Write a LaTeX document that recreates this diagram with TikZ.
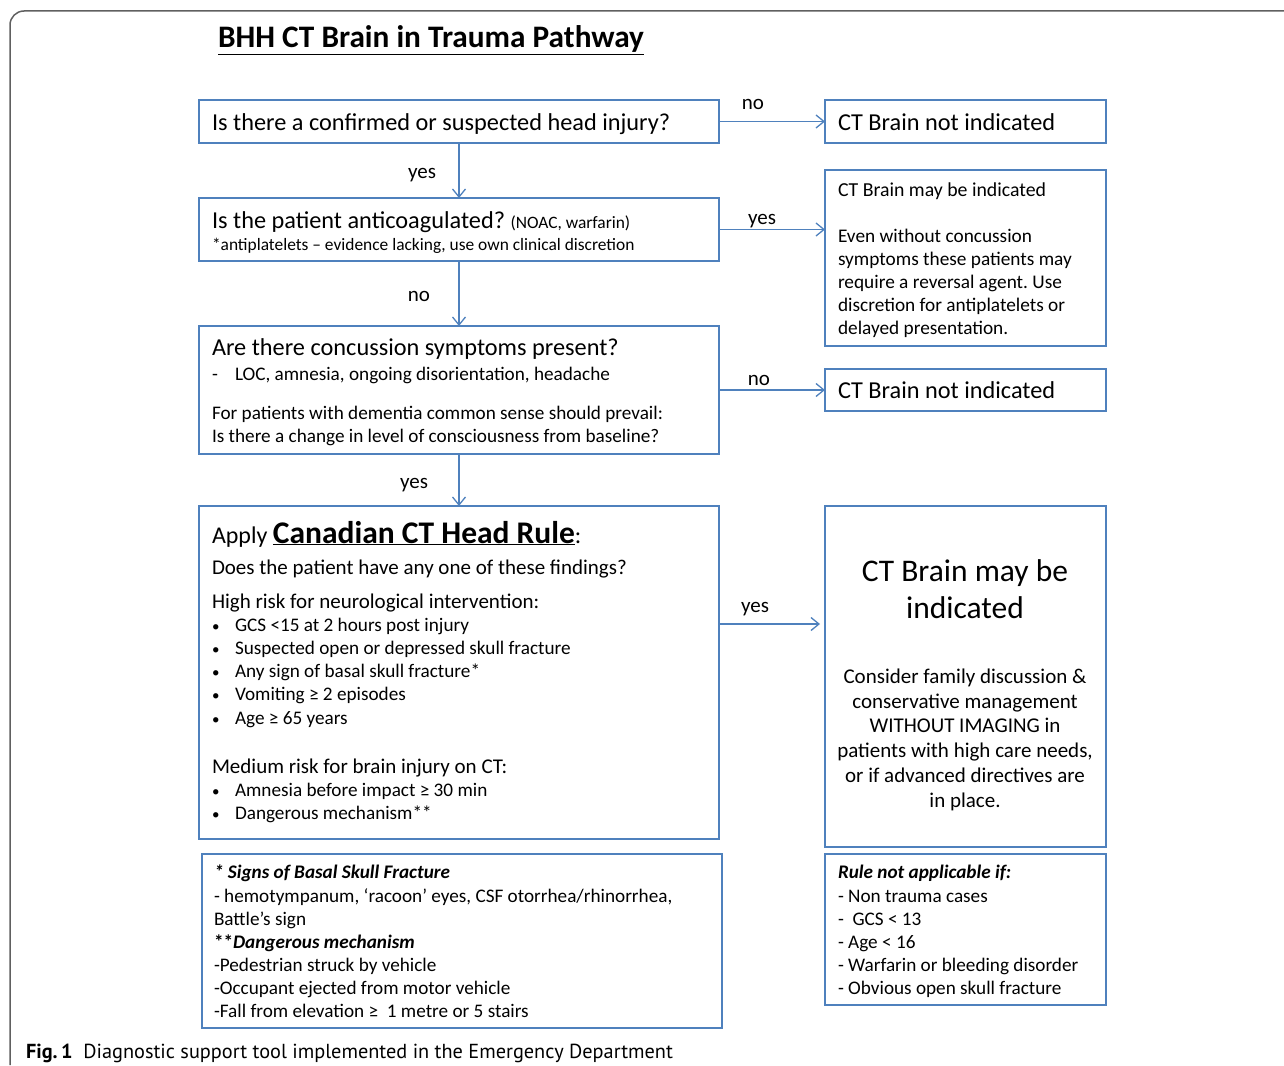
\documentclass[tikz,border=0pt]{standalone}
\usepackage{fontspec}
\setmainfont{Carlito}
\newfontfamily\capfont{PT Sans}
\usetikzlibrary{arrows.meta,calc}
\frenchspacing
\definecolor{boxblue}{HTML}{4F81BD}
\definecolor{framegray}{HTML}{606060}
\newcommand{\fsz}[1]{\fontsize{#1}{#1}\selectfont}
\tikzset{
  box/.style={draw=boxblue, line width=1.3pt, rectangle, inner sep=0pt, outer sep=0pt, anchor=north west},
  conn/.style={draw=boxblue, line width=1.3pt, -{Straight Barb[length=8pt,width=13pt,line width=1.3pt]}},
  txt/.style={anchor=base west, inner sep=0pt, outer sep=0pt, yshift=-1pt},
  ctxt/.style={anchor=base, inner sep=0pt, outer sep=0pt, yshift=-1pt},
  lbl/.style={anchor=base, inner sep=0pt, font=\fsz{21}, yshift=-1pt},
}
\begin{document}
\begin{tikzpicture}[x=1pt,y=-1pt]
\useasboundingbox (0,0) rectangle (1284,1065);
% outer frame
\draw[framegray, line width=1.5pt, rounded corners=14pt] (10,1065) -- (10,11) -- (1290,11);
% title
\node[ctxt, font=\fsz{31.3}\bfseries] (title) at (431,47) {\underline{BHH CT Brain in Trauma Pathway}};

% boxes
\node[box, minimum width=520pt, minimum height=43pt] (b1) at (199,100) {};
\node[box, minimum width=281pt, minimum height=43pt] (r1) at (825,100) {};
\node[box, minimum width=520pt, minimum height=63pt] (b2) at (199,198) {};
\node[box, minimum width=281pt, minimum height=176pt] (r2) at (825,170) {};
\node[box, minimum width=520pt, minimum height=128pt] (b3) at (199,326) {};
\node[box, minimum width=281pt, minimum height=42pt] (r3) at (825,369) {};
\node[box, minimum width=520pt, minimum height=333pt] (b4) at (199,506) {};
\node[box, minimum width=281pt, minimum height=341pt] (r4) at (825,506) {};
\node[box, minimum width=520pt, minimum height=174pt] (b5) at (202,854) {};
\node[box, minimum width=281pt, minimum height=151pt] (r5) at (825,854) {};

% connectors
\draw[conn] (b1.east) -- (r1.west);
\draw[conn] (b1.south) -- (b2.north);
\draw[conn] (b2.east) -- (r2.west |- b2.east);
\draw[conn] (b2.south) -- (b3.north);
\draw[conn] (b3.east) -- (r3.west);
\draw[conn] (b3.south) -- (b4.north);
\coordinate (c4) at ($(b4.north east)+(0,118)$);
\draw[conn, shorten >=5pt] (c4) -- (r4.west |- c4);

% connector labels
\node[lbl] (l1) at (753,108) {no};
\node[lbl] (l2) at (422,177) {yes};
\node[lbl] (l3) at (762,223) {yes};
\node[lbl] (l4) at (419,300) {no};
\node[lbl] (l5) at (759,384) {no};
\node[lbl] (l6) at (414,487) {yes};
\node[lbl] (l7) at (755,611) {yes};

% box 1
\node[txt, font=\fsz{24.3}] (t1) at (212,129) {Is there a confirmed or suspected head injury?};
\node[txt, font=\fsz{24.3}] (tr1) at (838,129) {CT Brain not indicated};

% box 2
\node[txt, font=\fsz{24.3}] (t2a) at (212,227) {Is the patient anticoagulated? {\fsz{17.4}(NOAC, warfarin)}};
\node[txt, font=\fsz{17.4}] (t2b) at (212,249) {*antiplatelets -- evidence lacking, use own clinical discretion};

% right box 2
\node[txt, font=\fsz{19.8}] (tr2a) at (838,195) {CT Brain may be indicated};
\node[txt, font=\fsz{19.3}] (tr2b) at (838,241) {Even without concussion};
\node[txt, font=\fsz{19.3}] (tr2c) at (838,264) {symptoms these patients may};
\node[txt, font=\fsz{19.3}] (tr2d) at (838,287) {require a reversal agent. Use};
\node[txt, font=\fsz{19.3}] (tr2e) at (838,310) {discretion for antiplatelets or};
\node[txt, font=\fsz{19.3}] (tr2f) at (838,333) {delayed presentation.};

% box 3
\node[txt, font=\fsz{24.3}] (t3a) at (212,354) {Are there concussion symptoms present?};
\node[txt, font=\fsz{19.2}] (t3b) at (212,379) {-};
\node[txt, font=\fsz{19.2}] (t3c) at (235,379) {LOC, amnesia, ongoing disorientation, headache};
\node[txt, font=\fsz{19.2}] (t3d) at (212,418) {For patients with dementia common sense should prevail:};
\node[txt, font=\fsz{19.2}] (t3e) at (212,441) {Is there a change in level of consciousness from baseline?};
\node[txt, font=\fsz{24.3}] (tr3) at (838,397) {CT Brain not indicated};

% box 4
\node[txt, font=\fsz{24}] (t4a) at (212,542) {Apply {\fsz{31.5}\bfseries\underline{Canadian CT Head Rule}}:};
\node[txt, font=\fsz{21}] (t4b) at (212,573) {Does the patient have any one of these findings?};
\node[txt, font=\fsz{21}] (t4c) at (212,607) {High risk for neurological intervention:};
\node[txt, font=\fsz{19.2}] (t4d) at (235,630) {GCS <15 at 2 hours post injury};
\node[txt, font=\fsz{19.2}] (t4e) at (235,653) {Suspected open or depressed skull fracture};
\node[txt, font=\fsz{19.2}] (t4f) at (235,676) {Any sign of basal skull fracture*};
\node[txt, font=\fsz{19.2}] (t4g) at (235,699) {Vomiting ≥ 2 episodes};
\node[txt, font=\fsz{19.2}] (t4h) at (235,723) {Age ≥ 65 years};
\node[txt, font=\fsz{21}] (t4i) at (212,772) {Medium risk for brain injury on CT:};
\node[txt, font=\fsz{19.2}] (t4j) at (235,795) {Amnesia before impact ≥ 30 min};
\node[txt, font=\fsz{19.2}] (t4k) at (235,818) {Dangerous mechanism**};
\foreach \yy [count=\i] in {630,653,676,699,723,795,818}
  \node[txt, font=\fsz{15}] (bul\i) at (212,\yy) {•};

% right box 4
\node[ctxt, font=\fsz{31.5}] (tr4a) at (965,580) {CT Brain may be};
\node[ctxt, font=\fsz{31.5}] (tr4b) at (965,617) {indicated};
\node[ctxt, font=\fsz{21}] (tr4c) at (965,682) {Consider family discussion \&};
\node[ctxt, font=\fsz{21}] (tr4d) at (965,707) {conservative management};
\node[ctxt, font=\fsz{21}] (tr4e) at (965,731) {WITHOUT IMAGING in};
\node[ctxt, font=\fsz{21}] (tr4f) at (965,756) {patients with high care needs,};
\node[ctxt, font=\fsz{21}] (tr4g) at (965,781) {or if advanced directives are};
\node[ctxt, font=\fsz{21}] (tr4h) at (965,806) {in place.};

% box 5
\node[txt, font=\fsz{19.2}\bfseries\itshape] (t5a) at (214,877) {* Signs of Basal Skull Fracture};
\node[txt, font=\fsz{19.2}] (t5b) at (214,901) {- hemotympanum, ‘racoon’ eyes, CSF otorrhea/rhinorrhea,};
\node[txt, font=\fsz{19.2}] (t5c) at (214,924) {Battle’s sign};
\node[txt, font=\fsz{19.2}] (t5d) at (214,947) {\textbf{**\textit{Dangerous mechanism}}};
\node[txt, font=\fsz{19.2}] (t5e) at (214,970) {-Pedestrian struck by vehicle};
\node[txt, font=\fsz{19.2}] (t5f) at (214,993) {-Occupant ejected from motor vehicle};
\node[txt, font=\fsz{19.2}] (t5g) at (214,1016) {-Fall from elevation ≥\ \ 1 metre or 5 stairs};

% right box 5
\node[txt, font=\fsz{19.2}\bfseries\itshape] (tr5a) at (838,877) {Rule not applicable if:};
\node[txt, font=\fsz{19.2}] (tr5b) at (838,901) {- Non trauma cases};
\node[txt, font=\fsz{19.2}] (tr5c) at (838,924) {-\ \ GCS < 13};
\node[txt, font=\fsz{19.2}] (tr5d) at (838,947) {- Age < 16};
\node[txt, font=\fsz{19.2}] (tr5e) at (838,970) {- Warfarin or bleeding disorder};
\node[txt, font=\fsz{19.2}] (tr5f) at (838,993) {- Obvious open skull fracture};

% caption
\node[txt, font=\capfont\fsz{20.3}] (cap) at (26,1057) {\textbf{Fig.\,1}\ \ Diagnostic support tool implemented in the Emergency Department};
\end{tikzpicture}
\end{document}
